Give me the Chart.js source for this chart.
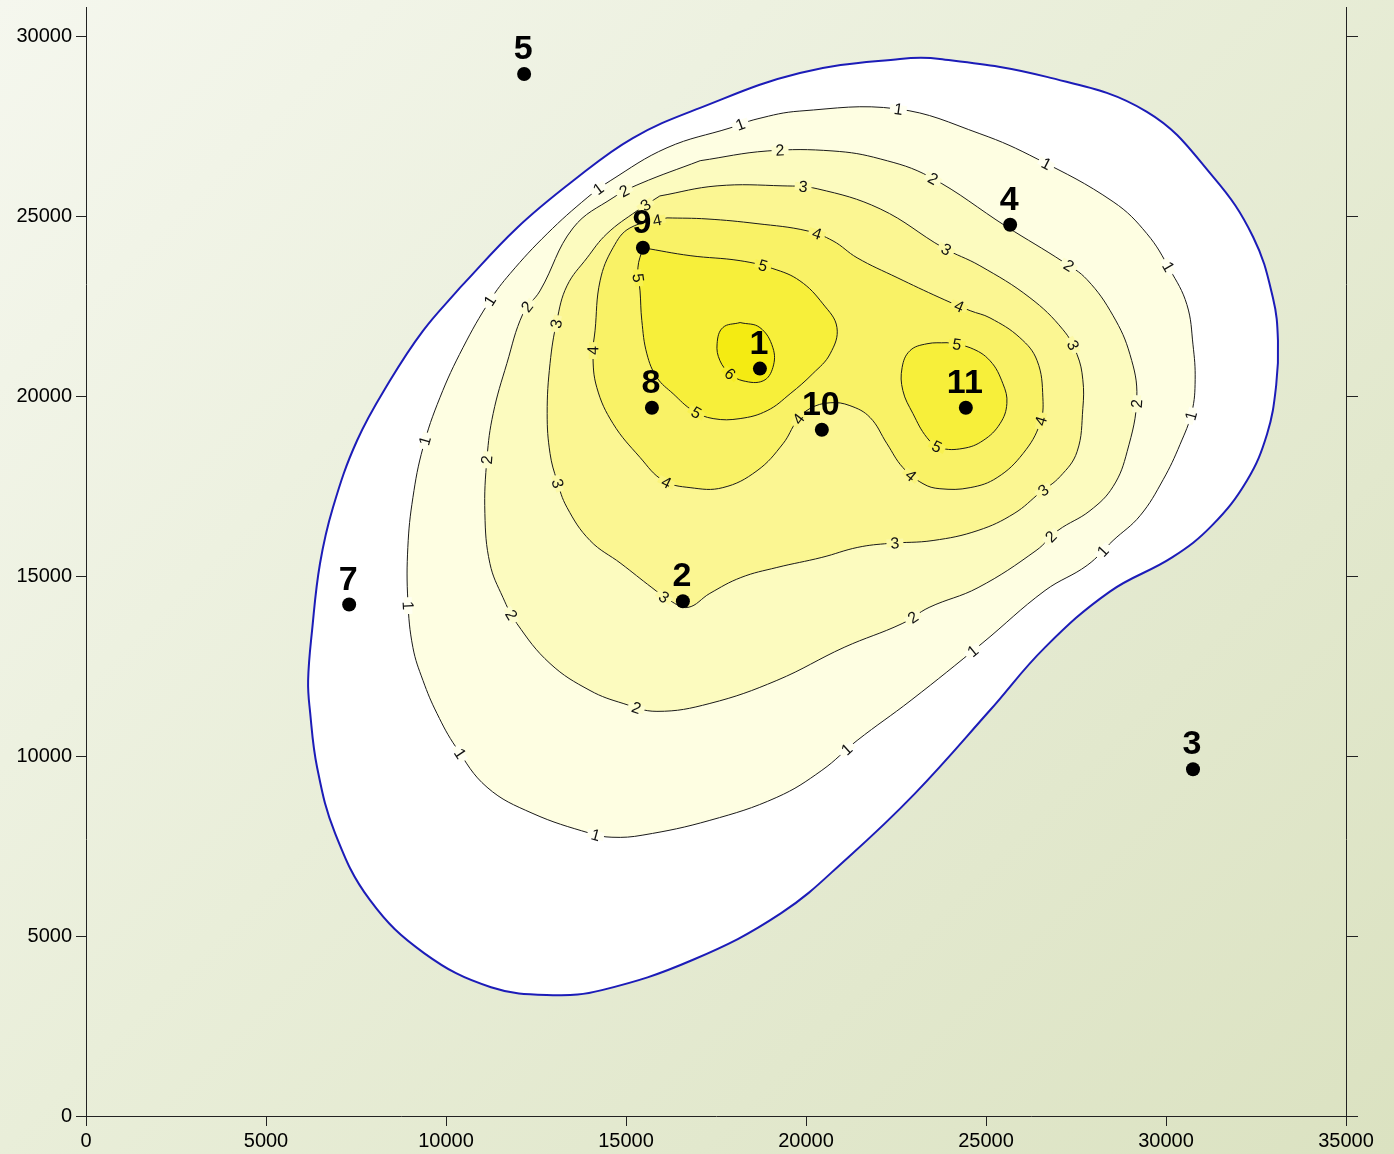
<!DOCTYPE html>
<html><head><meta charset="utf-8">
<script src="https://cdn.jsdelivr.net/npm/chart.js@4.4.1/dist/chart.umd.min.js"></script>
<style>
html,body{margin:0;padding:0;width:1394px;height:1154px;overflow:hidden;
background:linear-gradient(135deg,#f5f7ee 0%,#e9eed9 45%,#dbe2c1 100%);}
#c{position:absolute;left:0;top:0;}
</style></head><body>
<canvas id="c" width="1394" height="1154"></canvas>
<script>
// ---------------- data ----------------
const xTicks = [0,5000,10000,15000,20000,25000,30000,35000];
const yTicks = [0,5000,10000,15000,20000,25000,30000];
const xMax = 35000, yMax = 30833;

const wellNames = ['1','2','3','4','5','7','8','9','10','11'];
const wellX = [18720,16580,30750,25670,12170,7310,15720,15470,20440,24440];
const wellY = [20780,14310,9640,24780,28970,14220,19690,24140,19080,19690];

const contour0 = [[10390,23030],[11970,24690],[13530,26000],[15190,27190],[17060,28030],[19830,29000],[22610,29390],[23720,29390],[26690,28890],[29470,27920],[31310,26110],[32420,24440],[32970,22750],[33110,21560],[33060,20310],[32810,18970],[32250,17670],[31280,16420],[30170,15530],[28440,14580],[26640,13030],[25110,11280],[23030,8970],[21170,7190],[19310,5640],[16830,4330],[14330,3500],[12970,3360],[11250,3580],[9390,4530],[7890,6000],[6920,7860],[6420,9690],[6220,11280],[6170,12110],[6280,13500],[6500,15360],[6860,16920],[7530,18780],[8440,20440],[9360,21830]];
const contour1 = [[17890,27470],[18640,27720],[19830,27940],[22530,28000],[24830,27310],[26420,26610],[28530,25420],[29470,24530],[30110,23530],[30580,22560],[30750,21440],[30810,20470],[30720,19580],[30390,18670],[29920,17690],[29280,16690],[28530,16000],[27810,15310],[26640,14610],[24890,13140],[22920,11560],[21420,10440],[20440,9610],[19190,8860],[17330,8220],[15470,7810],[14610,7750],[14000,7860],[12390,8420],[11140,9140],[10280,10250],[9750,11190],[9360,12110],[9080,13030],[8940,14330],[8940,15810],[9080,17190],[9360,18580],[9830,19970],[10470,21360],[11220,22670],[11780,23420],[12810,24530],[13920,25530],[14560,26000],[16140,26920]];
const contour2 = [[17060,26560],[18920,26830],[20750,26830],[22060,26610],[23440,26110],[25580,24720],[27140,23750],[27810,23250],[28530,22250],[29000,21170],[29190,19970],[28920,18470],[28530,17500],[27890,16830],[27000,16280],[26390,15720],[24780,14690],[23420,14140],[22670,13690],[21060,13030],[19190,12110],[17330,11470],[15860,11250],[14920,11470],[14000,11830],[12890,12580],[11970,13690],[11580,14420],[11220,15360],[11080,16750],[11140,18310],[11310,19530],[11690,20920],[12140,22310],[12610,22940],[13530,24690],[14640,25530],[15390,25920]];
const contour3 = [[15940,25580],[17530,25860],[19360,25860],[20310,25780],[22060,25220],[23810,24140],[24830,23640],[26220,22750],[27140,21860],[27530,21170],[27690,20470],[27690,19670],[27530,18470],[27060,17780],[26500,17330],[25780,16750],[24780,16280],[23530,16000],[22310,15920],[21440,15810],[20440,15530],[19190,15250],[18190,14970],[17330,14530],[16720,14140],[16220,14330],[15720,14690],[14860,15360],[14000,16000],[13360,16920],[13080,17670],[12890,18420],[12810,19530],[12890,20920],[13080,22110],[13360,23080],[13920,23860],[14470,24530],[15310,25170]];
const contour4 = [[16140,24970],[17250,24940],[18640,24810],[20030,24610],[20750,24330],[21420,23860],[22530,23310],[23720,22750],[24560,22390],[25110,22190],[25940,21640],[26420,21000],[26580,19970],[26500,19250],[26030,18420],[25310,17750],[24560,17470],[23720,17440],[23250,17580],[22690,18030],[22250,18690],[21780,19420],[21220,19750],[20670,19830],[20110,19670],[19750,19330],[19360,18690],[18640,17940],[17690,17470],[16780,17470],[16030,17670],[15390,18310],[14640,19250],[14190,20250],[14080,21190],[14140,21830],[14280,23220],[14640,24140],[15110,24690]];
const contour5a = [[15470,24140],[16780,23920],[18170,23780],[19080,23560],[19830,23220],[20470,22580],[20860,21920],[20670,21190],[20190,20640],[19560,20080],[18920,19610],[18170,19390],[17420,19390],[16860,19610],[16310,20080],[15860,20530],[15580,21190],[15440,22110],[15390,22940],[15330,23580]];
const contour5b = [[23920,21500],[24560,21360],[25110,21000],[25470,20360],[25580,19810],[25390,19250],[24920,18780],[24360,18560],[23720,18580],[23360,18860],[22970,19530],[22690,20170],[22670,20810],[22890,21280],[23360,21470]];
const contour6 = [[18170,22060],[18720,21920],[19080,21360],[19080,20810],[18810,20440],[18250,20440],[17890,20640],[17610,21000],[17530,21470],[17690,21920]];

const labels1 = [[18170,27580],[22560,27940],[26690,26500],[30110,23640],[30670,19470],[28170,15780],[24640,12920],[21110,10220],[14170,7860],[10440,10110],[8940,14190],[9390,18780],[11220,22670],[14190,25830]];
const labels2 = [[19280,26830],[23530,26060],[27280,23610],[29060,19810],[26830,16080],[22970,13860],[15280,11330],[11830,13940],[11060,18250],[12250,22500],[14920,25780]];
const labels3 = [[19920,25830],[23920,24140],[27390,21420],[26560,17440],[22470,15920],[16030,14390],[13080,17580],[13060,22030],[15470,25440]];
const labels4 = [[15860,24940],[20310,24560],[24280,22580],[26500,19330],[22890,17780],[19780,19390],[16080,17530],[14140,21280]];
const labels5 = [[18810,23670],[15390,23310],[16970,19580],[24190,21420],[23720,18780]];
const labels6 = [[17920,20670]];

// ---------------- styling ----------------
const bandColors = ['#ffffff','#fefee2','#fcfbbf','#fbf692','#f9f266','#f7ef3a','#f4eb12'];
const contourDefs = [
  {pts: contour0, level: 0},
  {pts: contour1, level: 1},
  {pts: contour2, level: 2},
  {pts: contour3, level: 3},
  {pts: contour4, level: 4},
  {pts: contour5a, level: 5},
  {pts: contour5b, level: 5},
  {pts: contour6, level: 6}
];
const labelSets = [null, labels1, labels2, labels3, labels4, labels5, labels6];

function hexToRgb(h){h=h.replace('#','');return [0,2,4].map(i=>parseInt(h.substr(i,2),16));}
function mix(a,b){const A=hexToRgb(a),B=hexToRgb(b);return 'rgb('+A.map((v,i)=>Math.round((v+B[i])/2)).join(',')+')';}

const datasets = contourDefs.map((c,i)=>({
  data: c.pts.concat([c.pts[0]]).map(p=>({x:p[0],y:p[1]})),
  showLine: true,
  tension: 0.4,
  pointRadius: 0,
  pointHoverRadius: 0,
  borderColor: c.level===0 ? '#1c1cb8' : '#1a1a1a',
  borderWidth: c.level===0 ? 2 : 1,
  backgroundColor: bandColors[c.level],
  fill: 'shape',
  order: 20 - i
}));
datasets.push({
  data: wellX.map((x,i)=>({x:x,y:wellY[i]})),
  showLine: false,
  pointRadius: 7,
  pointHoverRadius: 7,
  pointBackgroundColor: '#000',
  pointBorderWidth: 0,
  order: 0
});

function densify(els){
  const out=[];
  for(let i=0;i<els.length-1;i++){
    const a=els[i], b=els[i+1];
    const p1x=a.cp2x!==undefined?a.cp2x:a.x, p1y=a.cp2y!==undefined?a.cp2y:a.y;
    const p2x=b.cp1x!==undefined?b.cp1x:b.x, p2y=b.cp1y!==undefined?b.cp1y:b.y;
    for(let k=0;k<12;k++){
      const t=k/12, u=1-t;
      out.push([u*u*u*a.x+3*u*u*t*p1x+3*u*t*t*p2x+t*t*t*b.x,
                u*u*u*a.y+3*u*u*t*p1y+3*u*t*t*p2y+t*t*t*b.y]);
    }
  }
  const l=els[els.length-1]; out.push([l.x,l.y]);
  return out;
}

const labelPlugin = {
  id: 'contourLabels',
  afterDatasetsDraw(chart){
    const ctx = chart.ctx, xs = chart.scales.x, ys = chart.scales.y;
    const polys = contourDefs.map((c,i)=>({level:c.level, pts: densify(chart.getDatasetMeta(i).data)}));
    ctx.save();
    ctx.font = '16px "Liberation Sans", Arial, sans-serif';
    ctx.textAlign = 'center';
    ctx.textBaseline = 'middle';
    for(let lv=1; lv<labelSets.length; lv++){
      for(const lab of labelSets[lv]){
        const px = xs.getPixelForValue(lab[0]), py = ys.getPixelForValue(lab[1]);
        let best = {d:1e9,x:px,y:py,a:0};
        for(const poly of polys){
          if(poly.level!==lv) continue;
          const P = poly.pts;
          for(let j=0;j<P.length-1;j++){
            const ax=P[j][0], ay=P[j][1], bx=P[j+1][0], by=P[j+1][1];
            const dx=bx-ax, dy=by-ay, L2=dx*dx+dy*dy||1;
            let t=((px-ax)*dx+(py-ay)*dy)/L2; t=Math.max(0,Math.min(1,t));
            const qx=ax+t*dx, qy=ay+t*dy, d=(qx-px)*(qx-px)+(qy-py)*(qy-py);
            if(d<best.d) best={d:d,x:qx,y:qy,a:Math.atan2(dy,dx)};
          }
        }
        let a = best.a;
        if(a>Math.PI/2) a-=Math.PI; if(a<=-Math.PI/2) a+=Math.PI;
        const txt = String(lv);
        const w = ctx.measureText(txt).width;
        ctx.save();
        ctx.translate(best.x,best.y);
        ctx.rotate(a);
        ctx.fillStyle = mix(bandColors[lv-1], bandColors[lv]);
        ctx.fillRect(-w/2-4,-4,w+8,8);
        ctx.fillStyle = '#111';
        ctx.fillText(txt,0,1);
        ctx.restore();
      }
    }
    // well labels
    ctx.font = 'bold 34px "Liberation Sans", Arial, sans-serif';
    ctx.textBaseline = 'alphabetic';
    ctx.fillStyle = '#000';
    wellNames.forEach((n,i)=>{
      const px = xs.getPixelForValue(wellX[i]), py = ys.getPixelForValue(wellY[i]);
      ctx.fillText(n, px-1, py-15);
    });
    ctx.restore();
  }
};

const tickFont = {family:'"Liberation Sans", Arial, sans-serif', size:20};
const axisGrid = {drawOnChartArea:false, drawTicks:true, tickLength:10, color:'#222', lineWidth:1};
const axisBorder = {display:true, color:'#222', width:1};
function zeroPad(s){ s.paddingTop=0; s.paddingBottom=0; s.paddingLeft=0; s.paddingRight=0; }

new Chart(document.getElementById('c'), {
  type: 'scatter',
  data: {datasets: datasets},
  options: {
    responsive: false,
    animation: false,
    devicePixelRatio: 1,
    events: [],
    layout: {padding: {top:6, left:0, right:0, bottom:0}},
    plugins: {legend:{display:false}, tooltip:{enabled:false}},
    scales: {
      x: {
        type:'linear', position:'bottom', min:0, max:xMax,
        afterBuildTicks: s => { s.ticks = xTicks.map(v=>({value:v})); },
        afterFit: s => { s.height = 38; zeroPad(s); },
        ticks: {font:tickFont, color:'#000', padding:3, maxRotation:0, autoSkip:false, callback: v => String(v)},
        grid: axisGrid, border: axisBorder
      },
      y: {
        type:'linear', position:'left', min:0, max:yMax,
        afterBuildTicks: s => { s.ticks = yTicks.map(v=>({value:v})); },
        afterFit: s => { s.width = 86; zeroPad(s); },
        ticks: {font:tickFont, color:'#000', padding:4, autoSkip:false, callback: v => String(v)},
        grid: axisGrid, border: axisBorder
      },
      y2: {
        type:'linear', position:'right', min:0, max:yMax,
        afterBuildTicks: s => { s.ticks = yTicks.map(v=>({value:v})); },
        afterFit: s => { s.width = 48; zeroPad(s); },
        ticks: {display:false},
        grid: Object.assign({}, axisGrid, {tickLength:12}), border: axisBorder
      }
    }
  },
  plugins: [labelPlugin]
});
</script>
</body></html>
